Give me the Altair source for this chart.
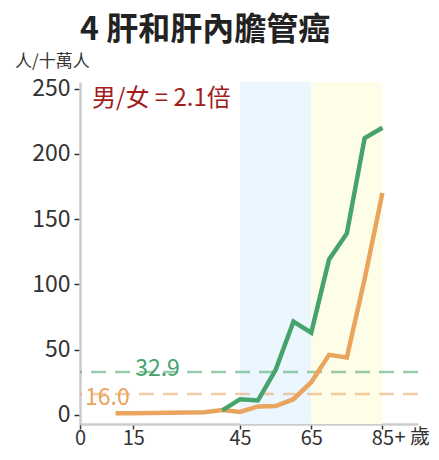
import altair as alt
import pandas as pd

# ---- data ----
ages_female = [10, 15, 20, 25, 30, 35, 40, 45, 50, 55, 60, 65, 70, 75, 80, 85]
female = [1.2, 1.3, 1.5, 1.7, 1.8, 2.0, 3.8, 2.2, 6.5, 6.8, 12, 25, 46, 44, 104, 170]
ages_male = [40, 45, 50, 55, 60, 65, 70, 75, 80, 85]
male = [3.5, 12, 11, 34.5, 71.5, 63, 119, 139, 212, 220]

band_start = [45, 65]
band_end = [65, 85]
band_color = ["#ebf6fe", "#fefde7"]

avg_values = [32.9, 16.0]
avg_labels = ["32.9", "16.0"]
avg_label_x = [15.5, 1.4]
avg_label_y = [34.9, 13.3]
avg_colors = ["#46a36c", "#e9a45e"]

x_ticks = [0, 15, 45, 65, 85]
y_ticks = [0, 50, 100, 150, 200, 250]

title_text = "4 肝和肝內膽管癌"
ylabel_text = "人/十萬人"
ratio_text = "男/女 = 2.1倍"
age_unit_text = "+ 歲"

GREEN = "#46a36c"
ORANGE = "#e9a45e"
FONT = "Noto Sans CJK TC"
W, H = 338, 342

xs = alt.Scale(domain=[0, 95], nice=False, zero=False)
ys = alt.Scale(domain=[-7, 255], nice=False, zero=False)

lines_df = pd.concat([
    pd.DataFrame({"age": ages_female, "rate": female, "sex": "女"}),
    pd.DataFrame({"age": ages_male, "rate": male, "sex": "男"}),
])
bands_df = pd.DataFrame({"s": band_start, "e": band_end, "c": band_color})
avg_df = pd.DataFrame({"v": avg_values, "c": avg_colors, "lab": avg_labels,
                       "lx": avg_label_x, "ly": avg_label_y})

bands = alt.Chart(bands_df).mark_rect().encode(
    x=alt.X("s:Q", scale=xs,
            axis=alt.Axis(values=x_ticks, title=None, grid=False,
                          labelFontSize=20, labelFont=FONT, labelColor="#333",
                          labelBaseline="alphabetic",
                          domainColor="#cccccc", domainWidth=2.5,
                          tickColor="#333", tickWidth=1.5, tickSize=5,
                          labelPadding=15, labelFlush=False)),
    x2="e:Q",
    y=alt.value(0),
    y2=alt.value(H),
    color=alt.Color("c:N", scale=None),
)

yaxis_layer = alt.Chart(lines_df).mark_point(opacity=0).encode(
    x=alt.X("age:Q", scale=xs),
    y=alt.Y("rate:Q", scale=ys,
            axis=alt.Axis(values=y_ticks, title=None, grid=False,
                          labelFontSize=23, labelFont=FONT, labelColor="#333",
                          domainColor="#cccccc", domainWidth=2.5,
                          tickColor="#333", tickWidth=1.5, tickSize=6,
                          labelPadding=4)),
)

rules = alt.Chart(avg_df).mark_rule(strokeDash=[15, 9], strokeWidth=2.5, opacity=0.55).encode(
    y=alt.Y("v:Q", scale=ys),
    color=alt.Color("c:N", scale=None),
)

avg_text = alt.Chart(avg_df).mark_text(align="left", baseline="middle",
                                       fontSize=23, font=FONT).encode(
    x=alt.X("lx:Q", scale=xs),
    y=alt.Y("ly:Q", scale=ys),
    text="lab:N",
    color=alt.Color("c:N", scale=None),
)

lines = alt.Chart(lines_df).mark_line(strokeWidth=4.5, strokeJoin="miter").encode(
    x=alt.X("age:Q", scale=xs),
    y=alt.Y("rate:Q", scale=ys),
    color=alt.Color("sex:N", scale=alt.Scale(domain=["女", "男"], range=[ORANGE, GREEN]),
                    legend=None),
    order=alt.Order("age:Q"),
)

one = pd.DataFrame({"t": [0]})
title = alt.Chart(one).mark_text(align="left", baseline="alphabetic", fontSize=32,
                                 fontWeight="bold", font=FONT, color="#222").encode(
    x=alt.value(0), y=alt.value(-42), text=alt.value(title_text))
ylabel = alt.Chart(one).mark_text(align="left", baseline="middle", fontSize=17,
                                  font=FONT, color="#333").encode(
    x=alt.value(-65), y=alt.value(-20), text=alt.value(ylabel_text))
ratio = alt.Chart(one).mark_text(align="left", baseline="middle", fontSize=24,
                                 font=FONT, color="#a31d1d").encode(
    x=alt.value(12), y=alt.value(17), text=alt.value(ratio_text))
unit = alt.Chart(one).mark_text(align="left", baseline="alphabetic", fontSize=20,
                                font=FONT, color="#333", dx=12).encode(
    x=alt.datum(85, scale=xs), y=alt.value(H + 20), text=alt.value(age_unit_text))

chart = alt.layer(bands, yaxis_layer, rules, avg_text, lines, title, ylabel, ratio, unit).properties(
    width=W, height=H,
    autosize=alt.AutoSizeParams(type="none"),
    padding={"left": 72, "top": 74, "right": 13, "bottom": 26},
).configure_view(stroke=None)

chart.save("out.html", embed_options={"renderer": "svg", "actions": False})
